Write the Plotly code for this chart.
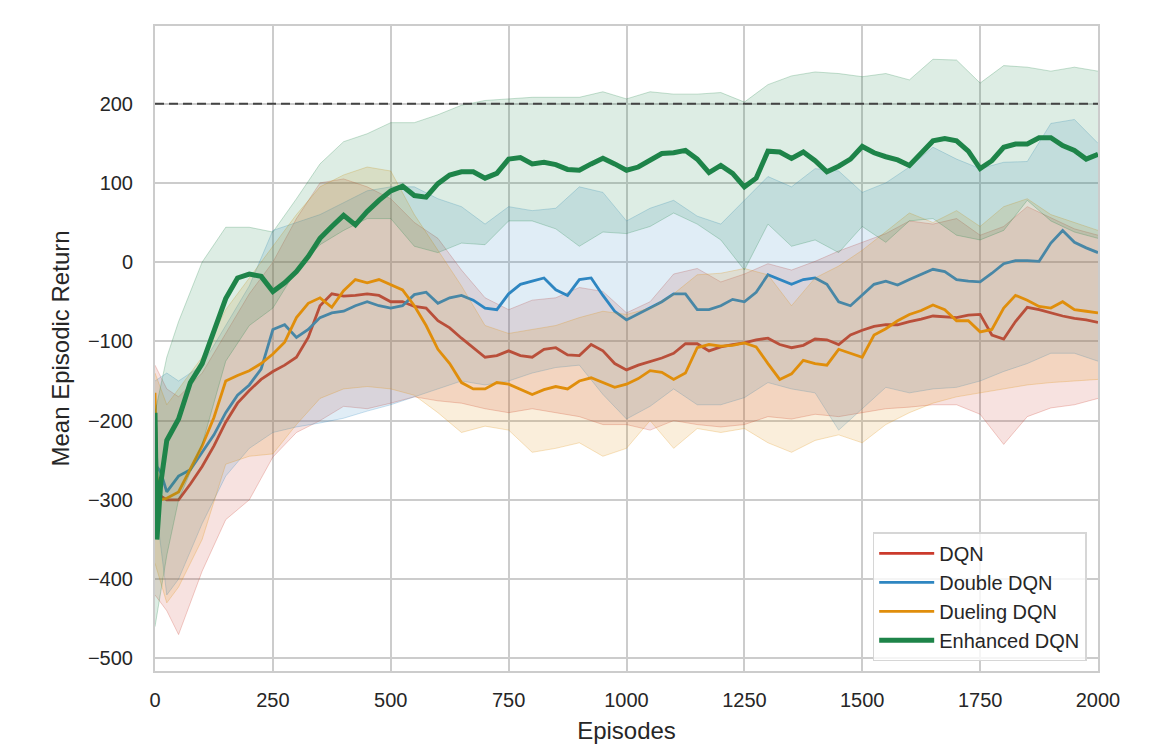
import plotly.graph_objects as go

# episodes for the mean curves
episodes = [0, 4, 12] + list(range(25, 2001, 25))
# episodes for the shaded bands
band_episodes = [0, 25] + list(range(50, 2001, 50))

dqn_mean = [-260, -285, -295, -300, -300, -280, -258, -232, -202, -178, -162, -148, -138,
            -130, -120, -95, -55, -40, -43, -42, -40, -42, -50, -50, -56, -58, -74,
            -83, -96, -108, -120, -118, -112, -118, -120, -110, -108, -117, -118, -104,
            -112, -128, -136, -130, -125, -121, -115, -103, -103, -112, -107, -104, -102,
            -98, -96, -104, -108, -105, -97, -98, -104, -92, -86, -81, -79, -79, -75,
            -72, -68, -69, -70, -67, -66, -92, -97, -75, -57, -60, -64, -68, -71, -73, -76]
double_mean = [-180, -258, -265, -290, -270, -262, -240, -218, -190, -168, -155, -135, -85,
               -79, -95, -85, -70, -64, -62, -55, -50, -55, -58, -55, -41, -38, -52,
               -45, -42, -48, -58, -60, -40, -28, -24, -20, -35, -42, -22, -20,
               -42, -62, -73, -65, -58, -50, -40, -40, -60, -60, -55, -47, -50,
               -38, -16, -22, -28, -22, -20, -28, -50, -55, -42, -28, -24, -29, -22,
               -16, -9, -12, -22, -24, -25, -14, -2, 2, 2, 1, 24, 40, 25, 18, 12]
dueling_mean = [-165, -270, -300, -298, -290, -262, -232, -196, -150, -143, -137, -128, -116,
                -101, -70, -52, -45, -57, -36, -22, -26, -22, -29, -35, -55, -80, -110,
                -128, -152, -160, -160, -152, -154, -160, -167, -161, -157, -160, -150, -146,
                -152, -158, -154, -147, -137, -139, -148, -140, -108, -104, -106, -105, -102,
                -107, -128, -148, -141, -124, -128, -130, -110, -115, -120, -92, -84, -74, -66,
                -61, -54, -60, -74, -74, -88, -85, -58, -42, -48, -56, -58, -50, -60, -62, -64]
enhanced_mean = [-190, -350, -280, -225, -198, -152, -128, -88, -46, -20, -15, -18, -37,
                 -26, -12, 7, 30, 45, 59, 47, 64, 78, 90, 96, 84, 82, 99,
                 110, 114, 114, 106, 112, 130, 132, 124, 126, 123, 117, 116, 124,
                 131, 124, 116, 120, 128, 137, 138, 141, 130, 113, 122, 112, 95,
                 106, 140, 139, 131, 139, 128, 114, 121, 130, 146, 138, 133, 129, 122,
                 138, 153, 156, 153, 140, 118, 128, 145, 149, 149, 157, 157, 147, 141, 130, 136]

dqn_upper = [-130, -160, -170, -140, -90, -40, 0, 55, 100, 105, 95, 80, 50, 30, -10, -45,
             -60, -48, -45, -32, -37, -64, -50, -15, -8, -25, -15, -2, -10, 1, 14, 25,
             36, 52, 48, 55, 34, 45, 70, 56, 42, 34]
dqn_lower = [-420, -440, -470, -390, -325, -300, -246, -215, -200, -182, -185, -178, -170,
             -175, -178, -185, -190, -185, -190, -195, -205, -205, -212, -200, -205, -208,
             -205, -195, -198, -192, -195, -190, -185, -183, -180, -180, -192, -230, -195,
             -184, -180, -172]
double_upper = [-150, -140, -150, -130, -80, -30, 40, 50, 60, 75, 90, 95, 95, 80, 70, 48,
                70, 65, 68, 95, 88, 52, 68, 78, 58, 48, 78, 108, 95, 118, 115, 88, 100,
                120, 145, 130, 118, 126, 127, 175, 180, 150]
double_lower = [-300, -420, -400, -330, -270, -235, -215, -208, -203, -197, -188, -180, -170,
                -160, -150, -155, -150, -140, -133, -130, -167, -198, -182, -160, -180, -180,
                -171, -152, -160, -165, -212, -185, -158, -165, -160, -158, -150, -138, -128,
                -115, -115, -125]
dueling_upper = [-140, -180, -160, -120, -60, -20, 20, 60, 95, 110, 120, 115, 60, 15, -30,
                 -80, -90, -85, -80, -70, -62, -66, -58, -40, -16, -14, -8, -16, -55, -20,
                 -5, 15, 38, 62, 50, 65, 45, 70, 80, 60, 50, 40]
dueling_lower = [-380, -430, -410, -350, -255, -245, -242, -205, -172, -160, -157, -160, -168,
                 -190, -215, -207, -212, -240, -235, -228, -245, -235, -200, -235, -210, -215,
                 -210, -228, -240, -225, -218, -228, -205, -190, -178, -170, -165, -160, -155,
                 -152, -150, -148]
enhanced_upper = [-190, -120, -75, 0, 44, 44, 38, 80, 124, 152, 162, 176, 176, 186, 198, 204,
                  206, 208, 208, 208, 215, 206, 215, 212, 212, 214, 202, 224, 235, 240, 238,
                  234, 238, 230, 256, 255, 226, 248, 246, 241, 246, 241]
enhanced_lower = [-460, -370, -300, -230, -125, -80, -58, -10, 22, 40, 55, 55, 20, 12, 24, 22,
                  52, 52, 42, 20, 38, 36, 45, 62, 48, 28, -10, 48, 20, 28, 12, 45, 25, 52,
                  55, 34, 28, 40, 78, 52, 38, 30]

target_return = 200

series = [
    ("DQN", dqn_mean, dqn_upper, dqn_lower, (203, 58, 44), 2.8),
    ("Double DQN", double_mean, double_upper, double_lower, (46, 134, 193), 2.8),
    ("Dueling DQN", dueling_mean, dueling_upper, dueling_lower, (224, 142, 11), 2.8),
    ("Enhanced DQN", enhanced_mean, enhanced_upper, enhanced_lower, (30, 132, 73), 5),
]

fig = go.Figure()

for name, mean, upper, lower, rgb, width in series:
    r, g, b = rgb
    fig.add_trace(go.Scatter(
        x=band_episodes, y=upper, mode="lines",
        line=dict(color=f"rgba({r},{g},{b},0.25)", width=1),
        showlegend=False, hoverinfo="skip"))
    fig.add_trace(go.Scatter(
        x=band_episodes, y=lower, mode="lines", fill="tonexty",
        fillcolor=f"rgba({r},{g},{b},0.15)",
        line=dict(color=f"rgba({r},{g},{b},0.25)", width=1),
        showlegend=False, hoverinfo="skip"))
    fig.add_trace(go.Scatter(
        x=episodes, y=mean, mode="lines", name=name,
        line=dict(color=f"rgb({r},{g},{b})", width=width)))

# target line
fig.add_hline(y=target_return, line=dict(color="#444444", width=2, dash="9px,5px"))

fig.update_layout(
    width=1151, height=744,
    margin=dict(l=147, r=61, t=18, b=77),
    paper_bgcolor="white", plot_bgcolor="white",
    font=dict(family="Liberation Sans, Arial, sans-serif", size=20, color="#262626"),
    legend=dict(x=0.988, xanchor="right", y=0.015, yanchor="bottom",
                traceorder="normal", tracegroupgap=0, itemwidth=55,
                bgcolor="rgba(255,255,255,0.8)", bordercolor="#d6d6d6", borderwidth=1.5,
                font=dict(size=20)),
)
fig.update_xaxes(
    range=[0, 2000], tickvals=[0, 250, 500, 750, 1000, 1250, 1500, 1750, 2000],
    title=dict(text="Episodes", standoff=12),
    showgrid=True, gridcolor="#cccccc", gridwidth=1.5,
    showline=True, linecolor="#cccccc", linewidth=2, mirror=True,
    zeroline=False, ticks="", ticklabelstandoff=10,
)
fig.update_yaxes(
    range=[-516, 298], tickvals=[-500, -400, -300, -200, -100, 0, 100, 200],
    title=dict(text="Mean Episodic Return", standoff=12),
    showgrid=True, gridcolor="#cccccc", gridwidth=1.5,
    showline=True, linecolor="#cccccc", linewidth=2, mirror=True,
    zeroline=False, ticks="", ticklabelstandoff=16,
)

fig.write_html("out.html")
